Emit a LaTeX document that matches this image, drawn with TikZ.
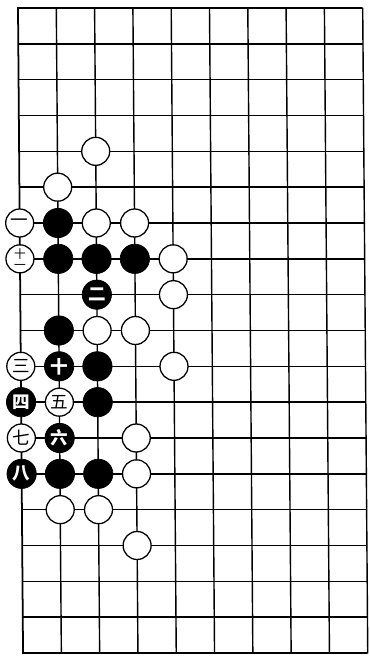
\documentclass[tikz,border=0pt]{standalone}
\usepackage{fontspec}
\usepackage{tikz}
\newfontfamily\cjk{Noto Sans CJK SC}

\begin{document}
\begin{tikzpicture}[
      x={(1.149cm,0cm)}, y={(0.0084cm,-1.075cm)},
      grid/.style={line width=1.2pt, black},
      edge/.style={line width=1.5pt, black},
      wstone/.style={circle, draw, line width=1.1pt, fill=white, minimum size=0.84cm, inner sep=0pt, font=\cjk\fontsize{15}{15}\selectfont},
      bstone/.style={circle, draw, line width=0.6pt, fill=black, text=white, minimum size=0.88cm, inner sep=0pt, font=\cjk\bfseries\fontsize{15}{15}\selectfont}
    ]
    \useasboundingbox (-0.54cm,0.24cm) rectangle (10.53cm,-19.44cm);
    
    % Board
    \foreach \r in {1,...,17}
      \draw[grid] (0,\r) -- (9,\r);
    \foreach \c in {1,...,9}
      \draw[grid] (\c,0) -- (\c,18);
    \draw[edge] (9,18) -- (0,18) -- (0,0) -- (9,0);
    
    % White stones
    \node[wstone] (w24) at (2,4) {};
    \node[wstone] (w15) at (1,5) {};
    \node[wstone] (w26) at (2,6) {};
    \node[wstone] (w36) at (3,6) {};
    \node[wstone] (w47) at (4,7) {};
    \node[wstone] (w48) at (4,8) {};
    \node[wstone] (w29) at (2,9) {};
    \node[wstone] (w39) at (3,9) {};
    \node[wstone] (w410) at (4,10) {};
    \node[wstone] (w312) at (3,12) {};
    \node[wstone] (w313) at (3,13) {};
    \node[wstone] (w114) at (1,14) {};
    \node[wstone] (w214) at (2,14) {};
    \node[wstone] (w315) at (3,15) {};
    
    % Black stones
    \node[bstone] (b16) at (1,6) {};
    \node[bstone] (b17) at (1,7) {};
    \node[bstone] (b27) at (2,7) {};
    \node[bstone] (b37) at (3,7) {};
    \node[bstone] (b19) at (1,9) {};
    \node[bstone] (b210) at (2,10) {};
    \node[bstone] (b211) at (2,11) {};
    \node[bstone] (b113) at (1,13) {};
    \node[bstone] (b213) at (2,13) {};
    
    % Numbered moves
    \node[wstone] (m1) at (0,6) {一};
    \node[bstone] (m2) at (2,8) {二};
    \node[wstone] (m3) at (0,10) {三};
    \node[bstone] (m4) at (0,11) {四};
    \node[wstone] (m5) at (1,11) {五};
    \node[bstone] (m6) at (1,12) {六};
    \node[wstone] (m7) at (0,12) {七};
    \node[bstone] (m8) at (0,13) {八};
    \node[bstone] (m10) at (1,10) {十};
    \node[wstone, align=center, font=\cjk\fontsize{10}{9}\selectfont] (m11) at (0,7) {十\\一};
    
  \end{tikzpicture}
\end{document}
